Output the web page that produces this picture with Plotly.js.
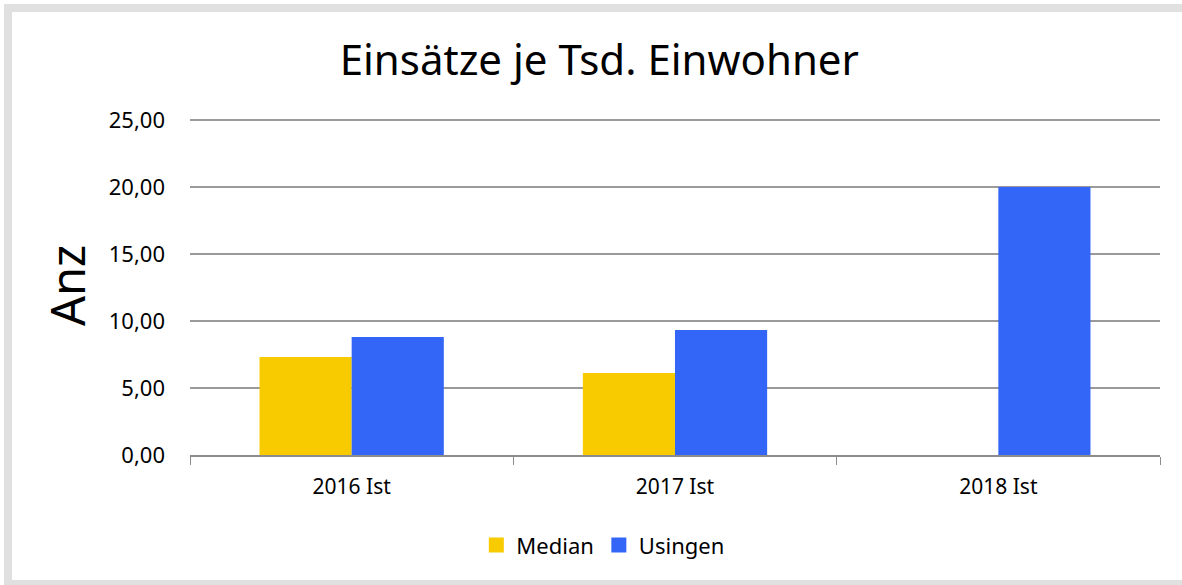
<!DOCTYPE html>
<html>
<head>
<meta charset="utf-8">
<script src="https://cdn.plot.ly/plotly-3.0.1.min.js"></script>
<style>
  html, body { margin: 0; padding: 0; background: #ffffff; overflow: hidden; }
  #chart { position: absolute; left: 0; top: 0; width: 1182px; height: 585px; }
</style>
</head>
<body>
<div id="chart"></div>
<script>
const categories = ["2016 Ist", "2017 Ist", "2018 Ist"];
const medianValues = [7.31, 6.12, null];
const usingenValues = [8.81, 9.33, 20.0];
const yTickValues = [0, 5, 10, 15, 20, 25];

const FONT = "'Noto Sans', 'Open Sans', sans-serif";

const traces = [
  { type: "bar", name: "Median", x: categories, y: medianValues,
    marker: { color: "#F8CB00" }, hoverinfo: "x+y+name" },
  { type: "bar", name: "Usingen", x: categories, y: usingenValues,
    marker: { color: "#3366F7" }, hoverinfo: "x+y+name" }
];

// frame in paper units (plot area: x 190..1160 px, y 116..455 px)
const W = 1182, H = 585, L = 190, R = 22, T = 116, B = 130;
const pw = W - L - R, ph = H - T - B;
const px = v => (v - L) / pw;
const py = v => (H - B - v) / ph;

const layout = {
  width: W, height: H,
  paper_bgcolor: "#ffffff", plot_bgcolor: "#ffffff",
  font: { family: FONT, color: "#000000", size: 22 },
  separators: ",.",
  margin: { l: L, r: R, t: T, b: B },
  title: { text: "Einsätze je Tsd. Einwohner", font: { size: 42, family: FONT, color: "#000" },
           x: 0.507, xref: "container", xanchor: "center", y: 0.897, yref: "container", yanchor: "middle" },
  barmode: "group", bargap: 0.43, bargroupgap: 0,
  xaxis: {
    type: "category", tickson: "boundaries", ticks: "outside", ticklen: 8, tickcolor: "#8c8c8c",
    showline: true, linecolor: "#8c8c8c", linewidth: 1.5, showgrid: false,
    tickfont: { size: 21 }, ticklabelstandoff: 12, fixedrange: true
  },
  yaxis: {
    range: [0, 25.3], tickvals: yTickValues, tickformat: ".2f",
    showgrid: true, gridcolor: "#9a9a9a", gridwidth: 1.2, zeroline: false,
    showline: false, ticks: "", tickfont: { size: 22 }, ticklabelstandoff: 24,
    title: { text: "Anz", font: { size: 47, family: FONT }, standoff: 8 }, fixedrange: true
  },
  legend: { orientation: "h", x: 0.51, xref: "container", xanchor: "center", y: 0.068, yref: "container", yanchor: "middle",
            font: { size: 22 }, itemwidth: 30, traceorder: "normal" },
  showlegend: true,
  shapes: [
    { type: "rect", xref: "paper", yref: "paper", layer: "above",
      x0: px(8), x1: px(1200), y0: py(584), y1: py(8),
      line: { color: "#e0e0e0", width: 8 }, fillcolor: "rgba(0,0,0,0)" }
  ]
};

Plotly.newPlot("chart", traces, layout, { displayModeBar: false, staticPlot: true }).then(function () {
  document.querySelectorAll(".legendpoints path").forEach(function (p) {
    const t = p.getAttribute("transform") || "";
    p.setAttribute("transform", t + " scale(1.25)");
  });
});
</script>
</body>
</html>
